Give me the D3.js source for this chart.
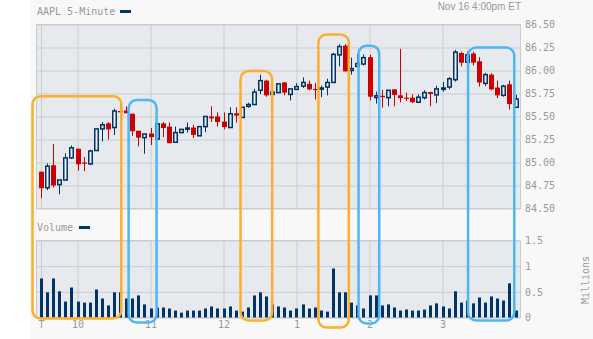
<!DOCTYPE html>
<html>
<head>
<meta charset="utf-8">
<script src="https://cdn.jsdelivr.net/npm/d3@7"></script>
<style>
body { margin: 0; background: #fff; }
svg { display: block; }
text { font-family: "DejaVu Sans Mono", monospace; font-size: 10px; fill: #999; }
.grid line { stroke: #ccc; }
.grid path { display: none; }
</style>
</head>
<body>
<svg width="593" height="339" style="width:593px;height:339px"></svg>
<script>
// AAPL 5-minute bars, Nov 16, 9:30 to 4:00
var opens = [84.90,84.725,84.97,84.76,84.81,85.05,85.15,85.00,84.985,85.13,
    85.365,85.425,85.38,85.56,85.565,85.53,85.345,85.27,85.315,85.255,
    85.425,85.39,85.22,85.325,85.365,85.38,85.29,85.39,85.50,85.50,
    85.445,85.38,85.535,85.49,85.61,85.63,85.785,85.89,85.74,85.76,
    85.87,85.74,85.795,85.83,85.855,85.80,85.80,85.82,85.87,86.17,
    86.27,86.00,86.045,86.07,86.145,85.705,85.725,85.705,85.795,85.73,
    85.705,85.705,85.655,85.705,85.765,85.735,85.795,85.82,85.90,86.19,
    86.09,86.185,86.10,85.86,85.955,85.815,85.73,85.85,85.60];
var highs = [84.90,84.99,85.20,84.81,85.10,85.185,85.15,85.06,85.14,85.365,
    85.44,85.44,85.585,85.64,85.61,85.53,85.345,85.31,85.375,85.44,
    85.44,85.435,85.39,85.36,85.435,85.41,85.39,85.50,85.61,85.545,
    85.545,85.60,85.60,85.60,85.65,85.80,85.955,85.90,85.765,85.855,
    85.875,85.80,85.86,85.925,85.89,85.865,85.835,85.91,86.19,86.285,
    86.285,86.14,86.18,86.175,86.17,85.77,85.79,85.785,85.795,86.235,
    85.76,85.74,85.74,85.785,85.77,85.835,85.875,85.93,86.225,86.205,
    86.205,86.205,86.145,85.975,85.97,85.89,85.845,85.89,85.735];
var lows = [84.61,84.70,84.73,84.655,84.81,85.04,84.91,84.905,84.97,85.13,
    85.23,85.25,85.30,85.54,85.535,85.29,85.175,85.095,85.19,85.24,
    85.275,85.21,85.22,85.325,85.325,85.265,85.29,85.33,85.44,85.39,
    85.36,85.38,85.435,85.49,85.595,85.63,85.745,85.715,85.65,85.76,
    85.73,85.675,85.795,85.81,85.785,85.685,85.71,85.73,85.87,86.045,
    85.99,85.955,86.045,86.055,85.675,85.64,85.595,85.61,85.61,85.655,
    85.67,85.645,85.645,85.685,85.61,85.645,85.77,85.795,85.88,86.045,
    86.07,86.055,85.825,85.83,85.785,85.70,85.715,85.575,85.60];
var closes = [84.72,84.96,84.75,84.81,85.05,85.16,84.98,84.99,85.125,85.365,
    85.41,85.36,85.56,85.545,85.535,85.34,85.27,85.31,85.275,85.42,
    85.375,85.21,85.325,85.36,85.375,85.30,85.39,85.50,85.48,85.44,
    85.385,85.53,85.51,85.60,85.63,85.765,85.89,85.73,85.765,85.855,
    85.76,85.80,85.825,85.87,85.795,85.79,85.81,85.87,86.175,86.26,
    85.99,86.02,86.075,86.14,85.715,85.725,85.71,85.785,85.735,85.70,
    85.695,85.655,85.71,85.76,85.745,85.80,85.81,85.91,86.20,86.085,
    86.17,86.085,85.87,85.955,85.795,85.73,85.83,85.635,85.69];
// volume in millions
var volumes = [0.76,0.49,0.76,0.51,0.31,0.585,0.31,0.29,0.29,0.545,
    0.37,0.235,0.49,0.49,0.37,0.37,0.43,0.255,0.175,0.195,
    0.195,0.175,0.135,0.095,0.135,0.135,0.135,0.175,0.215,0.175,
    0.175,0.215,0.135,0.115,0.195,0.43,0.49,0.41,0.255,0.215,
    0.195,0.135,0.175,0.255,0.175,0.195,0.135,0.115,0.955,0.49,
    0.49,0.29,0.235,0.175,0.43,0.43,0.235,0.255,0.195,0.135,
    0.155,0.135,0.135,0.155,0.235,0.275,0.215,0.175,0.51,0.29,
    0.33,0.275,0.39,0.29,0.41,0.37,0.33,0.665,0.135];

var priceTicks = [84.5,84.75,85,85.25,85.5,85.75,86,86.25,86.5];
var volumeTicks = [0,0.5,1,1.5];
var hourTicks = ["09:30","10:00","11:00","12:00","13:00","14:00","15:00"];
var hourLabels = ["T","10","11","12","1","2","3"];

// highlight boxes drawn over the chart
var highlights = [
    {from: "09:23", to: "10:36", top: 85.72, drop: 1, color: "#ffad2d"},
    {from: "10:42", to: "11:05", top: 85.68, drop: 5, color: "#4cb6f7"},
    {from: "12:14", to: "12:40", top: 85.995, drop: 3, color: "#ffad2d"},
    {from: "13:18", to: "13:43", top: 86.39, drop: 10, color: "#ffad2d"},
    {from: "13:51", to: "14:08", top: 86.27, drop: 6, color: "#4cb6f7"},
    {from: "15:21", to: "15:59", top: 86.25, drop: 3, color: "#4cb6f7"}
];

d3.select(window).on('load', init);

function init() {
    var svg = d3.select('svg');
    var parseTime = d3.timeParse("%Y-%m-%d %H:%M");
    var day = "2009-11-16 ";
    var start = parseTime(day + "09:30");
    var times = opens.map(function(d, i) { return d3.timeMinute.offset(start, 5 * i); });

    var left = 36.5, right = 520.5;
    var x = d3.scaleTime()
        .domain([start, parseTime(day + "16:00")])
        .range([41, 515.5]);
    var yPrice = d3.scaleLinear().domain([84.5, 86.5]).range([208.5, 24.5]);
    var yVol = d3.scaleLinear().domain([0, 1.5]).range([317.5, 240.5]);
    var tickTimes = hourTicks.map(function(h) { return parseTime(day + h); });

    // panel
    svg.append('rect').attr('x', 30).attr('y', 0).attr('width', 563).attr('height', 339)
        .attr('fill', '#f8f8f8');

    function plotBox(y0, y1) {
        svg.append('rect').attr('x', left).attr('y', y0)
            .attr('width', right - left).attr('height', y1 - y0)
            .attr('fill', '#e6eaee');
    }
    plotBox(24.5, 208.5);
    plotBox(240.5, 317.5);

    // vertical grid in both panes
    svg.append('g').attr('class', 'grid')
        .attr('transform', 'translate(0,208.5)')
        .call(d3.axisBottom(x).tickValues(tickTimes).tickSize(-184).tickFormat(''));
    svg.append('g').attr('class', 'grid')
        .attr('transform', 'translate(0,317.5)')
        .call(d3.axisBottom(x).tickValues(tickTimes).tickSize(-77).tickFormat(''));

    // price grid + labels
    var pAxis = svg.append('g').attr('class', 'grid')
        .attr('transform', 'translate(' + right + ',0)')
        .call(d3.axisRight(yPrice).tickValues(priceTicks)
            .tickSize(-(right - left)).tickPadding(4.5).tickFormat(d3.format('.2f')));
    pAxis.selectAll('text').attr('fill', '#999');

    var vAxis = svg.append('g').attr('class', 'grid')
        .attr('transform', 'translate(' + right + ',0)')
        .call(d3.axisRight(yVol).tickValues(volumeTicks)
            .tickSize(-(right - left)).tickPadding(4.5).tickFormat(d3.format('')));
    vAxis.selectAll('text').attr('fill', '#999');

    // borders
    [[24.5, 208.5], [240.5, 317.5]].forEach(function(b) {
        svg.append('rect').attr('x', left).attr('y', b[0])
            .attr('width', right - left).attr('height', b[1] - b[0])
            .attr('fill', 'none').attr('stroke', '#ccc');
    });

    // x labels
    var xAxis = svg.append('g')
        .attr('transform', 'translate(0,317.5)')
        .call(d3.axisBottom(x).tickValues(tickTimes).tickSize(0).tickPadding(3.5)
            .tickFormat(function(d, i) { return hourLabels[i]; }));
    xAxis.select('.domain').remove();
    xAxis.selectAll('text').attr('fill', '#999');

    // candles
    var up = '#003366', down = '#cc0000';
    var candles = svg.append('g').selectAll('g')
        .data(opens.map(function(o, i) {
            return {t: times[i], o: o, h: highs[i], l: lows[i], c: closes[i], v: volumes[i]};
        }))
        .enter().append('g');

    candles.append('line')
        .attr('x1', function(d) { return Math.round(x(d.t)) + 0.5; })
        .attr('x2', function(d) { return Math.round(x(d.t)) + 0.5; })
        .attr('y1', function(d) { return yPrice(d.h); })
        .attr('y2', function(d) { return yPrice(d.l); })
        .attr('stroke', function(d) { return d.c >= d.o ? up : down; });

    candles.append('rect')
        .attr('x', function(d) { return d.c >= d.o ? Math.round(x(d.t)) - 1.25 : Math.round(x(d.t)) - 2; })
        .attr('width', function(d) { return d.c >= d.o ? 3.5 : 5; })
        .attr('y', function(d) { return yPrice(Math.max(d.o, d.c)); })
        .attr('height', function(d) { return Math.max(1.2, Math.abs(yPrice(d.o) - yPrice(d.c))); })
        .attr('fill', function(d) { return d.c >= d.o ? '#eef1f4' : down; })
        .attr('stroke', function(d) { return d.c >= d.o ? up : 'none'; })
        .attr('stroke-width', 1.5);

    // volume bars
    candles.append('rect')
        .attr('x', function(d) { return Math.round(x(d.t)) - 1; })
        .attr('width', 3)
        .attr('y', function(d) { return yVol(d.v); })
        .attr('height', function(d) { return yVol(0) - yVol(d.v); })
        .attr('fill', up);

    // titles and legends
    svg.append('text').attr('x', 37).attr('y', 15).text('AAPL 5-Minute');
    svg.append('rect').attr('x', 120).attr('y', 10).attr('width', 11).attr('height', 3).attr('fill', up);
    svg.append('text').attr('x', 37).attr('y', 231).text('Volume');
    svg.append('rect').attr('x', 79).attr('y', 226).attr('width', 11).attr('height', 3).attr('fill', up);
    svg.append('text').attr('x', 521).attr('y', 9.5)
        .attr('text-anchor', 'end')
        .style('font-family', '"Liberation Sans", Arial, sans-serif')
        .text('Nov 16 4:00pm ET');
    svg.append('text')
        .attr('transform', 'translate(589,280) rotate(-90)')
        .attr('text-anchor', 'middle')
        .text('Millions');

    // highlight boxes
    svg.append('g').selectAll('rect')
        .data(highlights)
        .enter().append('rect')
        .attr('x', function(d) { return x(parseTime(day + d.from)); })
        .attr('width', function(d) { return x(parseTime(day + d.to)) - x(parseTime(day + d.from)); })
        .attr('y', function(d) { return yPrice(d.top); })
        .attr('height', function(d) { return yVol(0) + d.drop - yPrice(d.top); })
        .attr('rx', 8)
        .attr('fill', 'none')
        .attr('stroke', function(d) { return d.color; })
        .attr('stroke-width', 2.5);
}
</script>
</body>
</html>
